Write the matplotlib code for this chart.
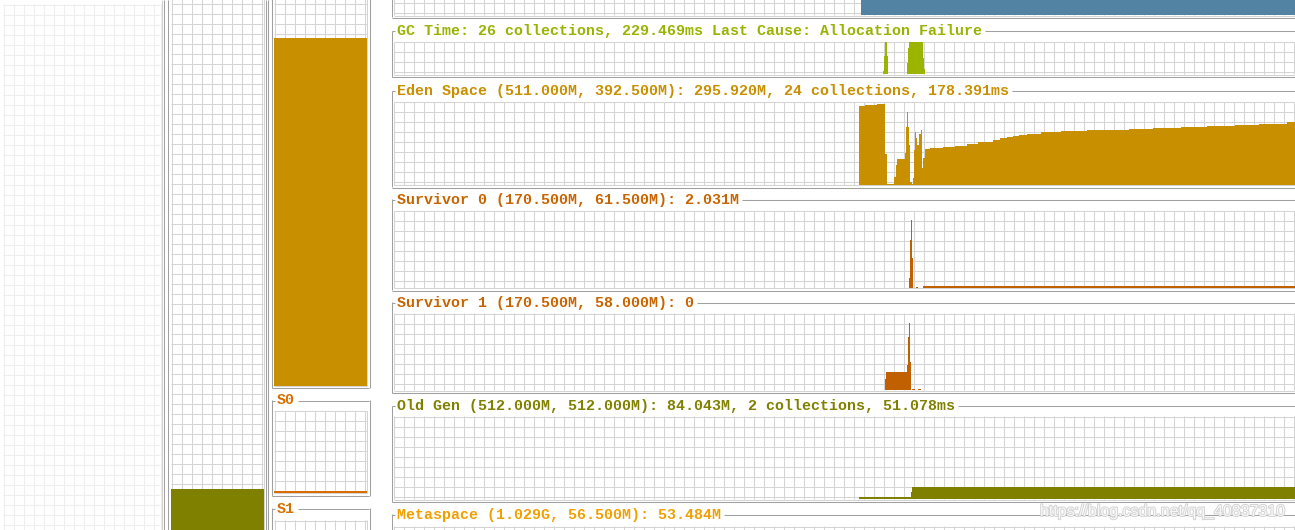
import numpy as np
import matplotlib.pyplot as plt
from matplotlib import patheffects

# VisualGC strip charts: one sample per pixel column, sample 0 = left edge of a graph
n_samples = 901

class_t = [467]
class_v = [100]

gc_t = [489, 490, 491, 493, 494, 513, 514, 515, 529, 530, 531]
gc_v = [10, 55, 100, 55, 0, 35, 80, 100, 50, 15, 0]
gc_max = 100

eden_t = [465, 471, 483, 491, 493, 500, 502, 503, 511, 512, 513, 514, 515, 516,
          518, 519, 520, 521, 522, 523, 525, 527, 528, 529, 531, 536, 549, 561,
          573, 584, 599, 606, 613, 619, 625, 633, 647, 667, 693, 735, 759, 787,
          813, 841, 865, 893]
eden_v = [484, 489, 497, 188, 6, 48, 120, 157, 193, 357, 449, 357, 244, 17,
          6, 42, 213, 326, 285, 244, 310, 336, 100, 162, 217, 225, 231, 238,
          253, 264, 275, 287, 293, 299, 305, 312, 324, 330, 336, 342, 349, 355,
          361, 367, 373, 386]
eden_max = 511.0

s0_t = [515, 516, 517, 518, 519, 522, 524, 529]
s0_v = [21, 106, 150, 65, 0, 2, 0, 4]
s0_max = 170.5

s1_t = [491, 492, 513, 514, 515, 516, 517, 518, 521, 524, 527]
s1_v = [24, 41, 55, 118, 148, 63, 0, 2, 0, 2, 0]
s1_max = 170.5

old_t = [465, 517, 518]
old_v = [16, 45, 78]
old_max = 512.0

# space columns on the left (used, capacity in MB)
old_used, old_cap = 84.043, 512.0
eden_used, eden_cap = 295.920, 392.5
s0_used, s0_cap = 2.031, 61.5
s1_used, s1_cap = 0.0, 58.0

gc_title = 'GC Time: 26 collections, 229.469ms Last Cause: Allocation Failure'
eden_title = 'Eden Space (511.000M, 392.500M): 295.920M, 24 collections, 178.391ms'
s0_title = 'Survivor 0 (170.500M, 61.500M): 2.031M'
s1_title = 'Survivor 1 (170.500M, 58.000M): 0'
old_title = 'Old Gen (512.000M, 512.000M): 84.043M, 2 collections, 51.078ms'
meta_title = 'Metaspace (1.029G, 56.500M): 53.484M'
watermark = 'https://blog.csdn.net/qq_40837310'

# ---- figure in pixel units ----
W, H = 1295, 530
fig = plt.figure(figsize=(W / 100, H / 100), dpi=100)
fig.patch.set_facecolor('white')

GRID = '#d4d4d4'
BORDER = '#a0a0a0'
LW = 0.75
FONT = dict(family=['Liberation Mono', 'DejaVu Sans Mono'], weight='bold', size=10.85)


def snap(v):
    # put 1px lines on pixel centres so they stay crisp
    return np.floor(np.asarray(v, dtype=float)) + 0.5


def px_axes(x0, y0, x1, y1):
    ax = fig.add_axes([x0 / W, 1 - y1 / H, (x1 - x0) / W, (y1 - y0) / H])
    ax.set_facecolor('none')
    ax.axis('off')
    return ax


bg = px_axes(0, 0, W, H)
bg.set_xlim(0, W)
bg.set_ylim(H, 0)


def grid(x0, y0, x1, y1, color=GRID, step=10):
    xs = snap(list(np.arange(x0, x1, step)) + [x1])
    ys = snap(list(np.arange(y0, y1, step)) + [y1])
    bg.vlines(xs, y0, y1, color=color, lw=LW)
    bg.hlines(ys, x0, x1, color=color, lw=LW)


def titled_box(x0, x1, ty, by, label=None, color='k', right=False):
    bg.vlines(snap(x0), ty, by, color=BORDER, lw=LW)
    bg.hlines(snap(by), x0, x1, color=BORDER, lw=LW)
    if right:
        bg.vlines(snap(x1), ty, by, color=BORDER, lw=LW)
    if label is None:
        return
    t = bg.text(x0 + 5, ty + 0.5, label, color=color, ha='left', va='center', **FONT)
    bb = t.get_window_extent().transformed(bg.transData.inverted())
    bg.hlines(snap(ty), x0, x0 + 3, color=BORDER, lw=LW)
    bg.hlines(snap(ty), bb.x1 + 3, x1, color=BORDER, lw=LW)


def strip(y0, y1, t, v, vmax, color):
    ax = px_axes(right_x0, y0, right_x0 + n_samples, y1)
    t = list(t) + [n_samples]
    v = list(v) + [v[-1]]
    ax.fill_between(t, v, step='post', color=color, lw=0)
    ax.set_xlim(0, n_samples)
    ax.set_ylim(0, vmax)


def column(x0, y0, x1, y1, used, cap, color):
    ax = px_axes(x0, y0, x1, y1)
    ax.bar(0, used, width=1, color=color, lw=0)
    ax.set_xlim(-0.5, 0.5)
    ax.set_ylim(0, cap)


# left side: background grid and the space columns
grid(3.3, 4, 160, 535, color='#eeeeee')
bg.vlines(snap([161.5]), 0, H, color='#d0d0d0', lw=LW)
bg.vlines(snap([163, 167.5, 265.7, 267.7]), 0, H, color=BORDER, lw=LW)

grid(171, -6.7, 263.3, 540)
column(171, -26.7, 264, 590.3, old_used, old_cap, '#808000')

grid(274.3, -6.7, 366.7, 385.7)
titled_box(271.7, 369.3, -5, 387.7, right=True)
column(274.3, -76, 366.7, 385.7, eden_used, eden_cap, '#c89000')

grid(274.3, 410.7, 366.7, 492.7)
titled_box(271.7, 369.3, 400, 495.7, 'S0', '#d87000', right=True)
column(274.3, 410.7, 366.7, 493.3, s0_used, s0_cap, '#d86c00')

grid(274.3, 520, 366.7, 545)
titled_box(271.7, 369.3, 508.3, 560, 'S1', '#d87000', right=True)
column(274.3, 520, 366.7, 600, s1_used, s1_cap, '#d86c00')

# right side: strip charts
right_x0 = 393.7
box_x0 = 391.7

grid(right_x0, -27.3, W + 5, 15.2)
titled_box(box_x0, W + 5, -5, 17.4)
strip(-27.3, 15.2, class_t, class_v, 100, '#5283a3')

grid(right_x0, 41.7, W + 5, 74.3)
titled_box(box_x0, W + 5, 30.7, 76.7, gc_title, '#99b300')
strip(41.7, 74.3, gc_t, gc_v, gc_max, '#9ab400')

grid(right_x0, 101.7, W + 5, 184.5)
titled_box(box_x0, W + 5, 90.7, 187.3, eden_title, '#c89000')
strip(101.7, 184.5, eden_t, eden_v, eden_max, '#c89000')

grid(right_x0, 210.7, W + 5, 287.7)
titled_box(box_x0, W + 5, 199.3, 290.3, s0_title, '#c86400')
strip(210.7, 287.7, s0_t, s0_v, s0_max, '#c06000')

grid(right_x0, 313.3, W + 5, 390)
titled_box(box_x0, W + 5, 302.3, 392.7, s1_title, '#c86400')
strip(313.3, 390, s1_t, s1_v, s1_max, '#c06000')

grid(right_x0, 416, W + 5, 499.3)
titled_box(box_x0, W + 5, 405.7, 501.7, old_title, '#808000')
strip(416, 499.3, old_t, old_v, old_max, '#808000')

grid(right_x0, 526, W + 5, 545)
titled_box(box_x0, W + 5, 514.3, 560, meta_title, '#f0a000')

bg.text(1286, 511.5, watermark, ha='right', va='center', fontsize=11.5,
        family='Liberation Sans', color='#f8f8f8', zorder=5,
        path_effects=[patheffects.withStroke(linewidth=1.3, foreground='#d2d2d2')])

fig.savefig('out.png', dpi=100, facecolor='white')
